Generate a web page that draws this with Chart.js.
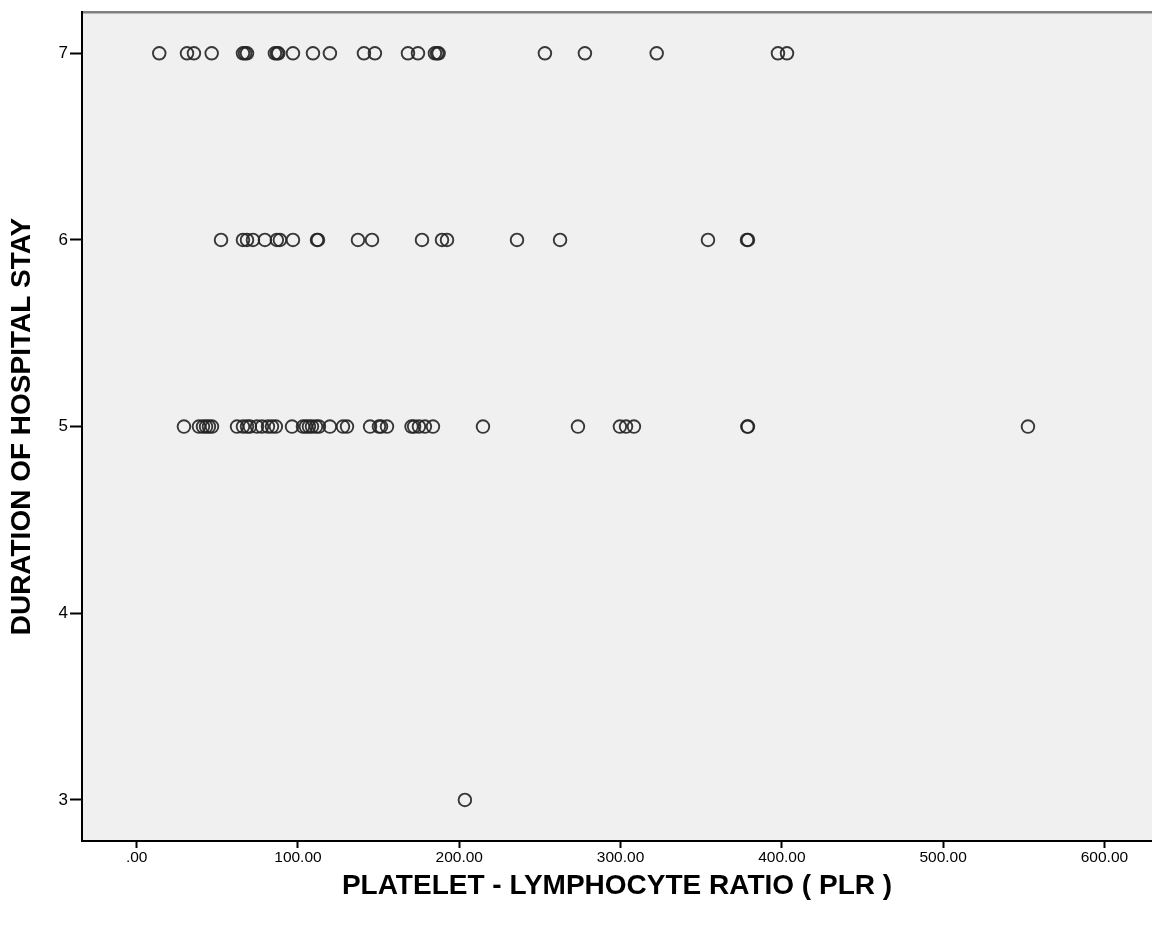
<!DOCTYPE html>
<html>
<head>
<meta charset="utf-8">
<script src="https://cdn.jsdelivr.net/npm/chart.js@4/dist/chart.umd.min.js"></script>
<style>
  html, body { margin: 0; padding: 0; background: #ffffff; overflow: hidden; }
  #wrap { position: relative; width: 1152px; height: 932px; }
</style>
</head>
<body>
<div id="wrap"><canvas id="c"></canvas></div>
<script>
// ---- data ----
const stay7PLR = [14.0, 31.2, 35.5, 46.5, 65.9, 67.2, 68.4, 85.7, 87.0, 87.8, 96.9, 109.3, 119.8, 140.9, 147.7, 168.2, 174.4, 184.9, 186.3, 187.2, 253.1, 277.9, 322.4, 397.6, 403.2];
const stay6PLR = [52.3, 65.9, 68.4, 72.1, 79.5, 86.9, 88.8, 96.9, 111.8, 112.4, 137.2, 145.9, 176.9, 189.3, 192.4, 235.8, 262.5, 354.2, 378.4, 379.0];
const stay5PLR = [29.3, 38.6, 41.1, 43.0, 44.8, 46.7, 62.2, 65.9, 68.4, 70.2, 74.6, 77.7, 81.4, 83.9, 86.3, 96.3, 103.1, 104.9, 106.8, 108.7, 111.2, 113.0, 119.8, 127.9, 130.4, 144.7, 150.2, 151.5, 155.2, 170.4, 172.0, 175.0, 178.7, 183.7, 214.7, 273.6, 299.6, 303.4, 308.3, 378.6, 379.0, 552.6];
const stay3PLR = [203.5];
const stayLevels = [7, 6, 5, 3];
const xTickValues = [0, 100, 200, 300, 400, 500, 600];
const xTickLabels = ['.00', '100.00', '200.00', '300.00', '400.00', '500.00', '600.00'];
const yTickValues = [3, 4, 5, 6, 7];
const yTickLabels = ['3', '4', '5', '6', '7'];
const xTitle = 'PLATELET - LYMPHOCYTE RATIO ( PLR )';
const yTitle = 'DURATION OF HOSPITAL STAY';

// ---- build points from the arrays ----
const groups = [stay7PLR, stay6PLR, stay5PLR, stay3PLR];
const points = [];
groups.forEach((arr, i) => arr.forEach(v => points.push({ x: v, y: stayLevels[i] })));

const FONT = "'Liberation Sans', Arial, sans-serif";

const plotBg = {
  id: 'plotBg',
  beforeDraw(chart) {
    const { ctx, chartArea: { left, top, right, bottom } } = chart;
    ctx.save();
    ctx.fillStyle = '#f0f0f0';
    ctx.fillRect(left, top, right - left, bottom - top);
    ctx.strokeStyle = '#808080';
    ctx.lineWidth = 2.5;
    ctx.beginPath();
    ctx.moveTo(left, top);
    ctx.lineTo(right, top);
    ctx.stroke();
    ctx.restore();
  }
};

new Chart(document.getElementById('c'), {
  type: 'scatter',
  data: {
    datasets: [{
      data: points,
      pointStyle: 'circle',
      pointRadius: 6.3,
      pointHoverRadius: 6.3,
      pointBorderWidth: 1.9,
      borderColor: 'rgba(35,35,35,0.9)',
      backgroundColor: 'rgba(0,0,0,0)'
    }]
  },
  options: {
    responsive: true,
    maintainAspectRatio: false,
    animation: false,
    events: [],
    layout: { autoPadding: false, padding: { top: 12, right: 0, bottom: 0, left: 0 } },
    plugins: { legend: { display: false }, tooltip: { enabled: false } },
    scales: {
      x: {
        type: 'linear',
        min: -33.9,
        max: 629.5,
        afterBuildTicks(scale) { scale.ticks = xTickValues.map(v => ({ value: v })); },
        afterFit(scale) { scale.height = 91; scale.paddingRight = 0; scale.paddingLeft = 0; },
        ticks: {
          callback: (v, i) => xTickLabels[i],
          color: '#000',
          padding: 0,
          maxRotation: 0,
          autoSkip: false,
          font: { family: FONT, size: 15.5 }
        },
        grid: { drawOnChartArea: false, drawTicks: true, tickLength: 7, tickWidth: 2, tickColor: '#000' },
        border: { display: true, color: '#000', width: 2 },
        title: {
          display: true,
          text: xTitle,
          color: '#000',
          font: { family: FONT, size: 28, weight: 'bold' },
          padding: { top: 0, bottom: 29 }
        }
      },
      y: {
        type: 'linear',
        min: 2.78,
        max: 7.22,
        afterBuildTicks(scale) { scale.ticks = yTickValues.map(v => ({ value: v })); },
        afterFit(scale) { scale.width = 82; },
        ticks: {
          callback: (v, i) => yTickLabels[i],
          color: '#000',
          padding: 2,
          font: { family: FONT, size: 17 }
        },
        grid: { drawOnChartArea: false, drawTicks: true, tickLength: 12, tickWidth: 2, tickColor: '#000' },
        border: { display: true, color: '#000', width: 2 },
        title: {
          display: true,
          text: yTitle,
          color: '#000',
          font: { family: FONT, size: 28, weight: 'bold' },
          padding: { top: 5, bottom: 0 }
        }
      }
    }
  },
  plugins: [plotBg]
});
</script>
</body>
</html>
